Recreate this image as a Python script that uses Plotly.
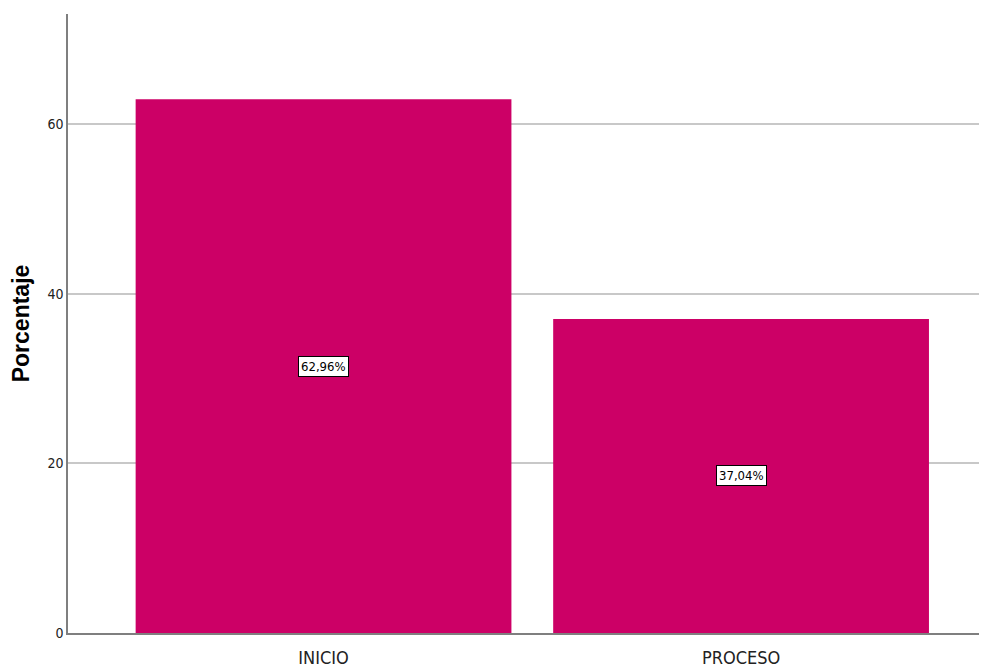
import plotly.graph_objects as go

categories = ["INICIO", "PROCESO"]
percentages = [62.96, 37.04]
labels = ["62,96%", "37,04%"]
y_ticks = [0, 20, 40, 60]

narrow = "Liberation Sans Narrow, Arial Narrow, DejaVu Sans Condensed, sans-serif"

fig = go.Figure()
fig.add_trace(go.Bar(
    x=categories, y=percentages, width=0.9,
    marker=dict(color="#CC0066", line=dict(width=0)),
    hoverinfo="skip", showlegend=False,
))

for c, v, t in zip(categories, percentages, labels):
    fig.add_annotation(
        x=c, y=v / 2, text=t, showarrow=False,
        font=dict(family=narrow, size=13, color="#000000"),
        bgcolor="#FFFFFF", bordercolor="#000000", borderwidth=1, borderpad=2,
    )

fig.update_layout(
    width=979, height=663,
    margin=dict(l=60, r=0, t=6, b=38),
    paper_bgcolor="#FFFFFF", plot_bgcolor="#FFFFFF",
    bargap=0.1,
)
fig.update_xaxes(
    range=[-0.612, 1.589], showgrid=False,
    showline=True, linecolor="#7f7f7f", linewidth=1.5,
    ticks="", ticklabelstandoff=8,
    tickfont=dict(family=narrow, size=18, color="#222222"),
    zeroline=False,
)
fig.update_yaxes(
    range=[0, 73], tickvals=y_ticks, ticktext=[str(v) for v in y_ticks],
    showgrid=True, gridcolor="#C8C8C8", gridwidth=1.5,
    showline=True, linecolor="#7f7f7f", linewidth=1.5,
    ticks="", ticklen=0,
    tickfont=dict(family=narrow, size=14, color="#222222"),
    zeroline=False,
    title=dict(text="<b>Porcentaje</b>", font=dict(family="Liberation Sans, Arial, sans-serif", size=23, color="#000000"), standoff=16),
)

fig.write_html("out.html")
